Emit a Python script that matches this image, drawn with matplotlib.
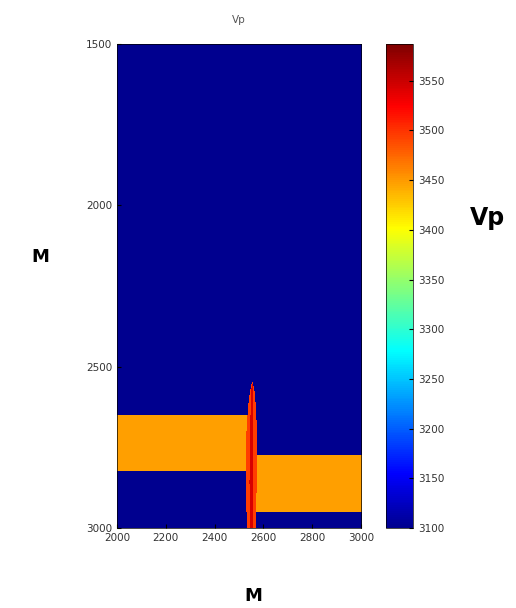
import numpy as np
import matplotlib.pyplot as plt
from matplotlib.colors import LinearSegmentedColormap

# velocity model (m, m/s)
x_range = [2000, 3000]
z_range = [1500, 3000]
v_background = 3100
v_layer = 3447
v_fault_rim = 3495
v_fault_core = 3545

# left block layer and right (downthrown) block layer
left_layer_top, left_layer_bot = 2650, 2825
right_layer_top, right_layer_bot = 2775, 2950

# fault zone: depth -> centre and half width
fault_depth = [2550, 2575, 2620, 2680, 2760, 2860, 2950, 3000]
fault_center = [2553, 2552, 2551, 2550, 2549, 2548, 2548, 2549]
fault_halfw = [2, 10, 16, 21, 24, 23, 20, 18]

xticks = [2000, 2200, 2400, 2600, 2800, 3000]
yticks = [1500, 2000, 2500, 3000]
cticks = [3100, 3150, 3200, 3250, 3300, 3350, 3400, 3450, 3500, 3550]

# MATLAB-style jet
matlab_jet = LinearSegmentedColormap('matlab_jet', {
    'red':   [(0, 0, 0), (23/63, 0, 0), (39/63, 1, 1), (55/63, 1, 1), (1, 0.5, 0.5)],
    'green': [(0, 0, 0), (7/63, 0, 0), (23/63, 1, 1), (39/63, 1, 1), (55/63, 0, 0), (1, 0, 0)],
    'blue':  [(0, 0.5625, 0.5625), (7/63, 1, 1), (23/63, 1, 1), (39/63, 0, 0), (1, 0, 0)],
})

x = np.arange(x_range[0], x_range[1] + 1, 2)
z = np.arange(z_range[0], z_range[1] + 1, 2)
X, Z = np.meshgrid(x, z)

fc = np.interp(Z, fault_depth, fault_center)
fw = np.interp(Z, fault_depth, fault_halfw)

V = np.full(X.shape, v_background, dtype=float)
V[(X < fc) & (Z >= left_layer_top) & (Z <= left_layer_bot)] = v_layer
V[(X >= fc) & (Z >= right_layer_top) & (Z <= right_layer_bot)] = v_layer
below_tip = Z >= fault_depth[0]
V[(np.abs(X - fc) <= fw) & below_tip] = v_fault_rim
V[(np.abs(X - fc) <= 0.35 * fw) & below_tip] = v_fault_core

fig = plt.figure(figsize=(5.16, 6.08), dpi=100)
ax = fig.add_axes([0.2267, 0.1316, 0.4729, 0.796])
cax = fig.add_axes([0.748, 0.1316, 0.0523, 0.796])

im = ax.imshow(V, cmap=matlab_jet, vmin=3100, vmax=3587, aspect='auto',
               extent=[x[0], x[-1], z[-1], z[0]], interpolation='nearest')
ax.set_xlim(x_range)
ax.set_ylim(z_range[1], z_range[0])
ax.set_xticks(xticks)
ax.set_yticks(yticks)
ax.tick_params(direction='in', labelsize=7.5, labelcolor='#333333', length=3)
for s in ax.spines.values():
    s.set_linewidth(0.5)
ax.set_title('Vp', fontsize=7.5, color='#555555', pad=15)

cb = fig.colorbar(im, cax=cax, ticks=cticks)
cb.outline.set_linewidth(0.5)
cax.tick_params(direction='in', labelsize=7.5, labelcolor='#333333', length=3)

fig.text(0.078, 0.577, 'M', fontsize=13, fontweight='bold', ha='center', va='center')
fig.text(0.49, 0.019, 'M', fontsize=13, fontweight='bold', ha='center', va='center')
fig.text(0.944, 0.641, 'Vp', fontsize=17, fontweight='bold', ha='center', va='center')

fig.savefig('out.png', dpi=100)
